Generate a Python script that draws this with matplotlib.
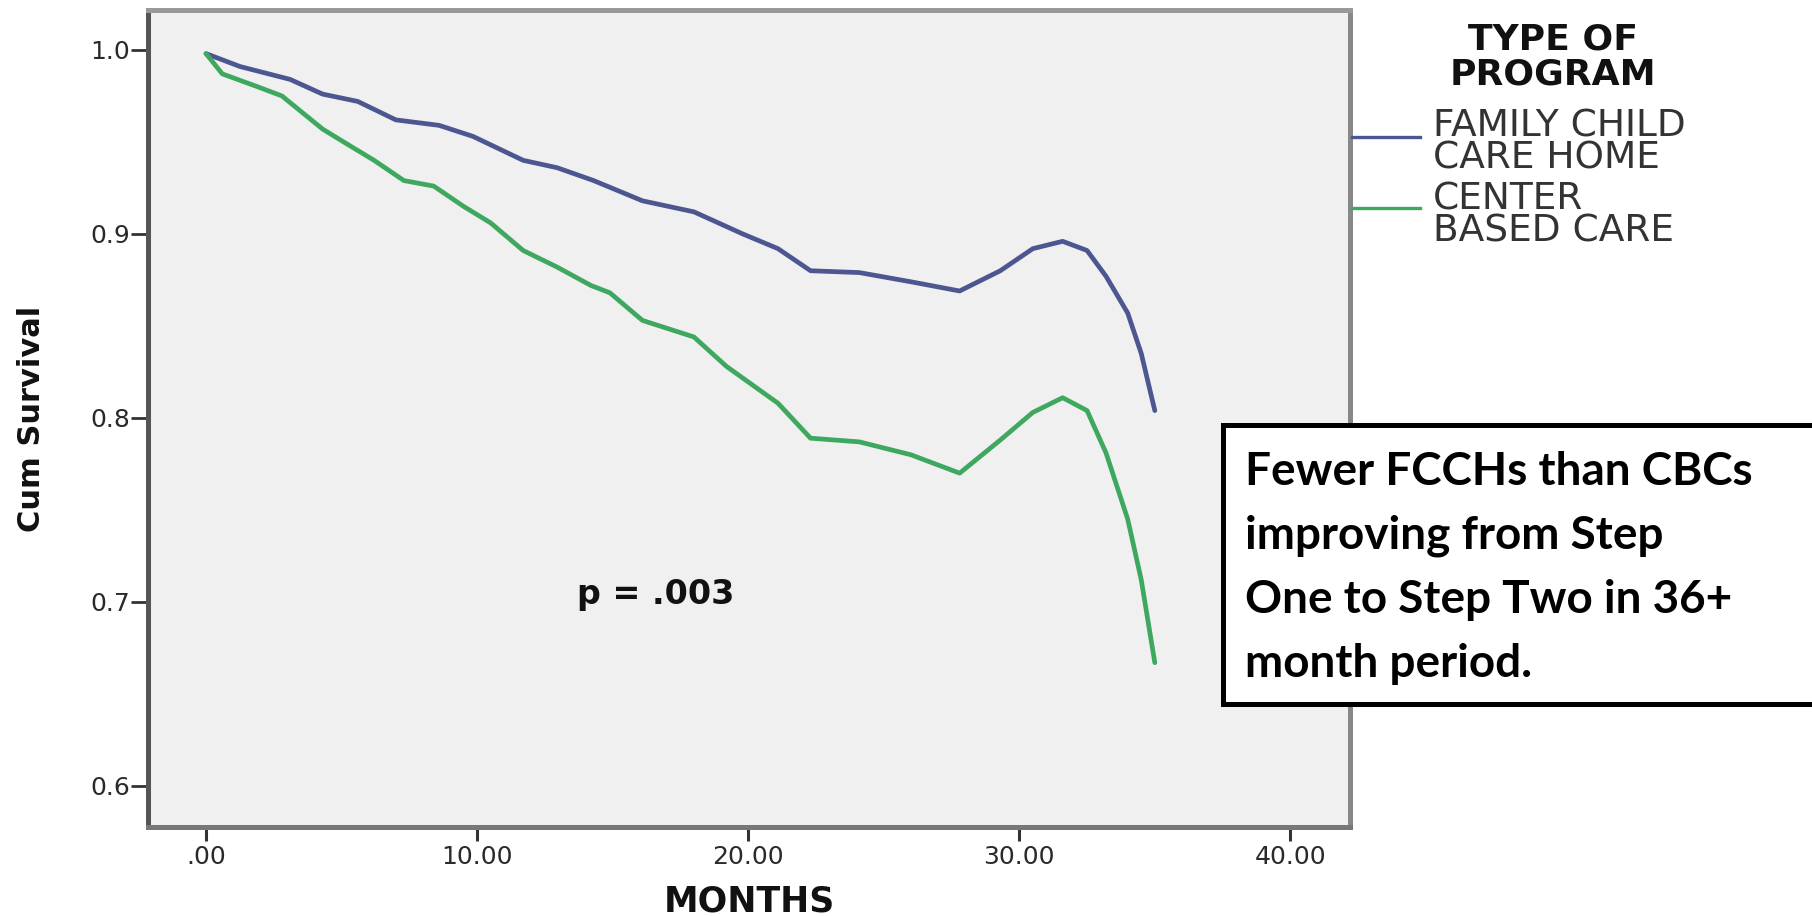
import matplotlib
matplotlib.use("Agg")
import matplotlib.pyplot as plt
from matplotlib.lines import Line2D
from matplotlib.patches import Rectangle

# ---------------- data ----------------
fcch_months = [0, 1.25, 3.1, 4.3, 5.6, 7.0, 8.6, 9.85, 11.7, 12.95, 14.3, 16.1, 18.0,
               19.8, 21.1, 22.3, 24.1, 26.0, 27.8, 29.3, 30.5, 31.6, 32.5, 33.2,
               34.0, 34.5, 35.0]
fcch_surv = [0.998, 0.991, 0.984, 0.976, 0.972, 0.962, 0.959, 0.953, 0.940, 0.936,
             0.929, 0.918, 0.912, 0.900, 0.892, 0.880, 0.879, 0.874, 0.869, 0.880,
             0.892, 0.896, 0.891, 0.877, 0.857, 0.835, 0.804]

cbc_months = [0, 0.6, 1.9, 2.8, 4.3, 5.3, 6.2, 7.3, 8.4, 9.5, 10.5, 11.7, 12.95,
              14.2, 14.9, 16.1, 18.0, 19.2, 21.1, 22.3, 24.1, 26.0, 27.8, 29.3,
              30.5, 31.6, 32.5, 33.2, 34.0, 34.5, 35.0]
cbc_surv = [0.998, 0.987, 0.980, 0.975, 0.957, 0.948, 0.940, 0.929, 0.926, 0.915,
            0.906, 0.891, 0.882, 0.872, 0.868, 0.853, 0.844, 0.828, 0.808, 0.789,
            0.787, 0.780, 0.770, 0.788, 0.803, 0.811, 0.804, 0.781, 0.745, 0.712,
            0.667]

x_ticks = [0, 10, 20, 30, 40]
x_tick_labels = [".00", "10.00", "20.00", "30.00", "40.00"]
y_ticks = [0.6, 0.7, 0.8, 0.9, 1.0]
y_tick_labels = ["0.6", "0.7", "0.8", "0.9", "1.0"]

series_names = ["FAMILY CHILD\nCARE HOME", "CENTER\nBASED CARE"]
legend_title = "TYPE OF\nPROGRAM"
p_text = "p = .003"
note_lines = ["Fewer FCCHs than CBCs", "improving from Step",
              "One to Step Two in 36+", "month period."]

# ---------------- styling ----------------
W, H = 1812, 916
BLUE = "#4c5690"
GREEN = "#3fa860"

def fx(px):
    return px / W

def fy(py):
    return 1 - py / H

fig = plt.figure(figsize=(W / 100, H / 100), dpi=100)
fig.patch.set_facecolor("white")

ax = fig.add_axes([fx(148), fy(827), (1350 - 148) / W, (827 - 10) / H])
ax.set_facecolor("#f0f0f0")

ax.plot(fcch_months, fcch_surv, color=BLUE, lw=3.4, solid_joinstyle="round",
        solid_capstyle="round")
ax.plot(cbc_months, cbc_surv, color=GREEN, lw=3.4, solid_joinstyle="round",
        solid_capstyle="round")

ax.set_xlim(-2.14, 42.2)
ax.set_ylim(0.5777, 1.0217)
ax.set_xticks(x_ticks)
ax.set_xticklabels(x_tick_labels)
ax.set_yticks(y_ticks)
ax.set_yticklabels(y_tick_labels)

ax.tick_params(axis="x", length=10, width=2.2, color="#333333", labelsize=18,
               labelcolor="#2a2a2a", pad=3)
ax.tick_params(axis="y", length=12, width=2.0, color="#333333", labelsize=18,
               labelcolor="#2a2a2a", pad=1)

for side, col in [("left", "#555555"), ("bottom", "#777777"),
                  ("top", "#999999"), ("right", "#888888")]:
    ax.spines[side].set_linewidth(3.6)
    ax.spines[side].set_color(col)

ax.set_xlabel("MONTHS", fontsize=25, fontweight="bold", color="#111111")
ax.xaxis.set_label_coords(0.5, (827 - 902) / 817)
ax.xaxis.label.set_va("center")

ax.set_ylabel("Cum Survival", fontsize=22, fontweight="bold", color="#111111",
              family=["Liberation Sans Narrow", "DejaVu Sans"])
ax.yaxis.set_label_coords((31 - 148) / 1202, 0.5)
ax.yaxis.label.set_va("center")

ax.text(13.7, 0.704, p_text, fontsize=24, fontweight="bold", color="#111111",
        ha="left", va="center")

# ---------------- legend (outside, right) ----------------
fig.text(fx(1553), fy(57), legend_title, fontsize=26, fontweight="bold",
         color="#111111", ha="center", va="center", multialignment="center",
         linespacing=1.05)

entry_center = [142.5, 215.5]
handle_y = [137, 208]
for name, cy, hy, col in zip(series_names, entry_center, handle_y, [BLUE, GREEN]):
    fig.add_artist(Line2D([fx(1352), fx(1420)], [fy(hy), fy(hy)], color=col,
                          lw=2.4, transform=fig.transFigure))
    fig.text(fx(1433), fy(cy), name, fontsize=27, color="#333333",
             ha="left", va="center", multialignment="left", linespacing=0.87)

# ---------------- annotation box ----------------
fig.add_artist(Rectangle((fx(1223), fy(704)), (1840 - 1223) / W, (704 - 425) / H,
                         transform=fig.transFigure, facecolor="white",
                         edgecolor="black", linewidth=3.6, zorder=5,
                         clip_on=False))
for i, line in enumerate(note_lines):
    fig.text(fx(1245), fy(472 + 64 * i), line, fontsize=33, fontweight="bold",
             family=["Lato", "DejaVu Sans"], color="black", ha="left",
             va="center", zorder=6)

fig.savefig("out.png", dpi=100, facecolor="white")
